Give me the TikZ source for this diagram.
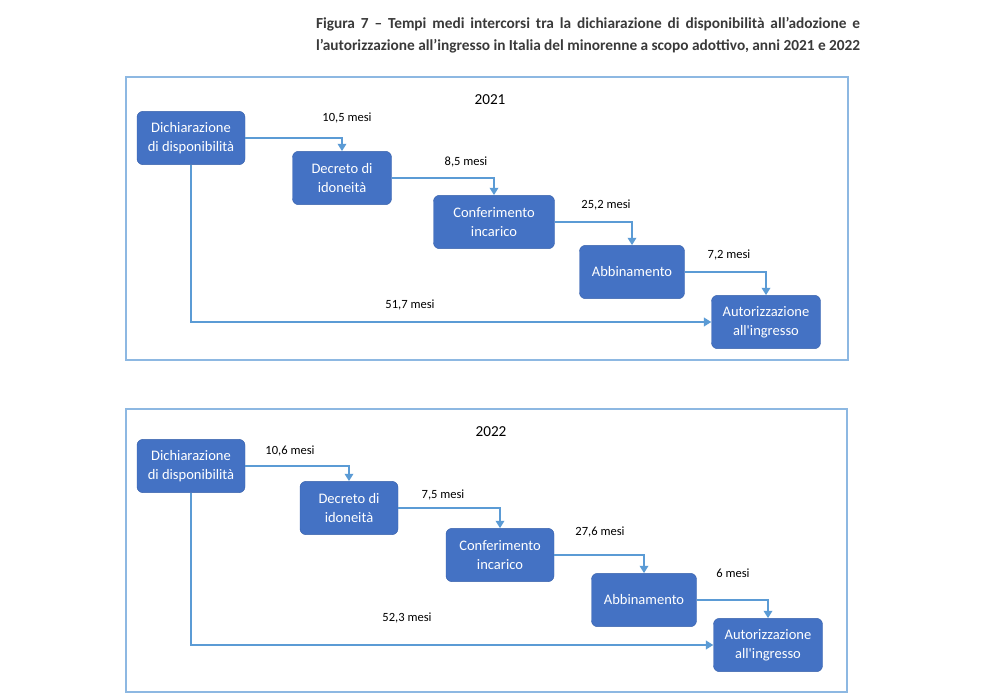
\documentclass[tikz,border=0pt]{standalone}
\usepackage{fontspec}
\setmainfont{Carlito}
\usetikzlibrary{arrows.meta, positioning}
\definecolor{boxblue}{HTML}{4472C4}
\definecolor{boxedge}{HTML}{3A63AD}
\definecolor{linkblue}{HTML}{5B9BD5}
\definecolor{frameblue}{HTML}{8DB8E2}
\definecolor{titlegray}{HTML}{3A3A3A}

\begin{document}
\begin{tikzpicture}[
  x=0.3mm, y=-0.3mm,
  stepbox/.style = {draw=boxedge, fill=boxblue, rounded corners=1.8mm, text=white,
    minimum height=16mm, align=center, inner sep=0pt,
    font=\fontsize{12.4}{16.2}\selectfont},
  link/.style = {draw=linkblue, line width=0.45mm, -{Triangle[width=2.6mm,length=2.2mm]}},
  panel/.style = {draw=frameblue, line width=0.4mm},
  lbl/.style = {font=\fontsize{10.7}{13}\selectfont, text=black},
  year/.style = {font=\fontsize{13}{15}\selectfont, text=black}
]
\useasboundingbox (0,0) rectangle (1000,700);

% Title
\node[text width=163.2mm, align=justify, text=titlegray, inner sep=0pt,
  font=\bfseries\fontsize{13.1}{18.8}\selectfont] (title) at (588,35)
  {Figura 7 – Tempi medi intercorsi tra la dichiarazione di disponibilità all’adozione e\linebreak
   l’autorizzazione all’ingresso in Italia del minorenne a scopo adottivo, anni 2021 e 2022};

% 2021
\draw[panel] (126,77) rectangle (848,360);
\node[year] (y21) at (490,100) {2021};

\node[stepbox, minimum width=32.4mm] (dich21) at (191,138) {Dichiarazione\\di disponibilità};
\node[stepbox, minimum width=29.7mm] (dec21)  at (342,178) {Decreto di\\idoneità};
\node[stepbox, minimum width=36.3mm] (conf21) at (494,222) {Conferimento\\incarico};
\node[stepbox, minimum width=31.5mm] (abb21)  at (632,272) {Abbinamento};
\node[stepbox, minimum width=32.7mm] (aut21)  at (766,322) {Autorizzazione\\all\textquotesingle ingresso};

\draw[link] (dich21.east) -| (dec21.north);
\draw[link] (dec21.east)  -| (conf21.north);
\draw[link] (conf21.east) -| (abb21.north);
\draw[link] (abb21.east)  -| (aut21.north);
\draw[link] (dich21.south) |- (aut21.west);

\node[lbl] (t21a) at (347,118) {10,5 mesi};
\node[lbl] (t21b) at (466,162) {8,5 mesi};
\node[lbl] (t21c) at (606,205) {25,2 mesi};
\node[lbl] (t21d) at (729,255) {7,2 mesi};
\node[lbl] (t21e) at (410,305) {51,7 mesi};

% 2022
\draw[panel] (126,409) rectangle (847,692);
\node[year] (y22) at (491,432) {2022};

\node[stepbox, minimum width=32.4mm] (dich22) at (191,466) {Dichiarazione\\di disponibilità};
\node[stepbox, minimum width=29.4mm] (dec22)  at (349,508) {Decreto di\\idoneità};
\node[stepbox, minimum width=32.4mm] (conf22) at (500,555) {Conferimento\\incarico};
\node[stepbox, minimum width=31.5mm] (abb22)  at (644,600) {Abbinamento};
\node[stepbox, minimum width=32.7mm] (aut22)  at (768,645) {Autorizzazione\\all\textquotesingle ingresso};

\draw[link] (dich22.east) -| (dec22.north);
\draw[link] (dec22.east)  -| (conf22.north);
\draw[link] (conf22.east) -| (abb22.north);
\draw[link] (abb22.east)  -| (aut22.north);
\draw[link] (dich22.south) |- (aut22.west);

\node[lbl] (t22a) at (290,451) {10,6 mesi};
\node[lbl] (t22b) at (443,495) {7,5 mesi};
\node[lbl] (t22c) at (600,532) {27,6 mesi};
\node[lbl] (t22d) at (733,573) {6 mesi};
\node[lbl] (t22e) at (407,618) {52,3 mesi};

\end{tikzpicture}
\end{document}
